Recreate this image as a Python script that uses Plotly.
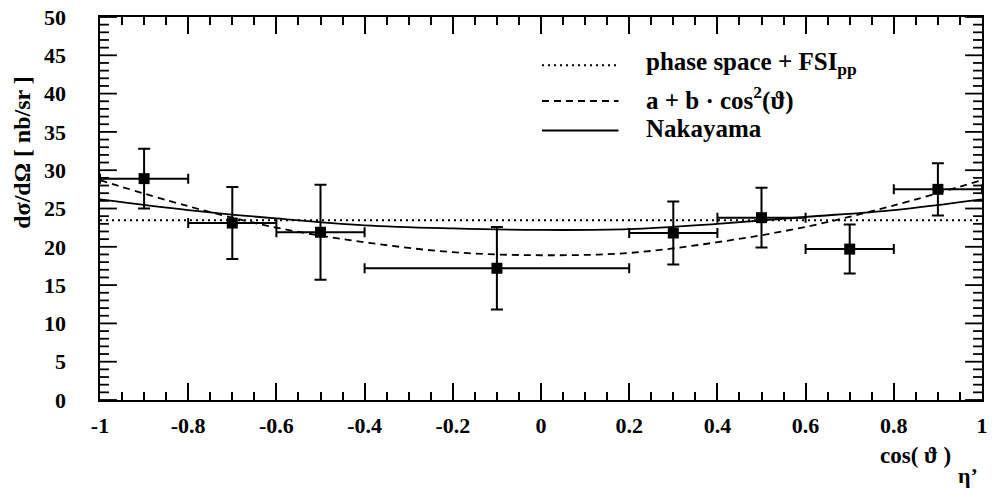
import plotly.graph_objects as go

# Measured differential cross section per cos(theta) bin
cos_theta = [-0.9, -0.7, -0.5, -0.1, 0.3, 0.5, 0.7, 0.9]
bin_halfwidth = [0.1, 0.1, 0.1, 0.3, 0.1, 0.1, 0.1, 0.1]
dsigma = [28.9, 23.1, 21.9, 17.2, 21.8, 23.8, 19.7, 27.5]
dsigma_err = [3.9, 4.7, 6.2, 5.4, 4.1, 3.9, 3.2, 3.4]

# Model curves
curve_x = [-1.0, -0.8, -0.6, -0.4, -0.2, 0.0, 0.2, 0.4, 0.6, 0.8, 1.0]
nakayama = [26.2, 24.8, 23.7, 22.8, 22.4, 22.2, 22.3, 23.0, 23.9, 24.8, 26.2]
cos2_fit = [28.7, 25.3, 22.5, 20.6, 19.3, 18.9, 19.2, 20.6, 22.6, 25.4, 28.7]
fsi_x = [-1.0, 1.0]
fsi_pp = [23.45, 23.45]

# Tick labels
x_tickvals = [-1, -0.8, -0.6, -0.4, -0.2, 0, 0.2, 0.4, 0.6, 0.8, 1]
x_ticktext = ["-1", "-0.8", "-0.6", "-0.4", "-0.2", "0", "0.2", "0.4", "0.6", "0.8", "1"]
y_tickvals = [0, 5, 10, 15, 20, 25, 30, 35, 40, 45, 50]
y_ticktext = ["0", "5", "10", "15", "20", "25", "30", "35", "40", "45", "50"]

legend_labels = ["phase space + FSI<sub>pp</sub>", "a + b · cos<sup>2</sup>(ϑ)", "Nakayama"]
legend_dashes = ["2px,4px", "7px,5px", "solid"]

X_RANGE = [-1, 1]
Y_RANGE = [0, 50]

W, H = 993, 488
ML, MR, MT, MB = 100, 5, 12, 88
PW, PH = W - ML - MR, H - MT - MB

def px_x(p):
    return (p - ML) / PW

def px_y(p):
    return (H - MB - p) / PH

FONT = dict(family="Liberation Serif, Times New Roman, serif", color="black", weight="bold")
LABEL_GAP = "\u00a0" * 5  # keeps y labels clear of the frame

fig = go.Figure()

# Flat phase space + FSI line lives on the x overlay that carries the x tick labels
fig.add_trace(go.Scatter(x=fsi_x, y=fsi_pp, mode="lines", xaxis="x2", yaxis="y",
                         line=dict(color="black", width=2, dash=legend_dashes[0]),
                         showlegend=False, hoverinfo="skip"))
fig.add_trace(go.Scatter(x=curve_x, y=cos2_fit, mode="lines", line_shape="spline",
                         line=dict(color="black", width=1.8, dash=legend_dashes[1]),
                         showlegend=False, hoverinfo="skip"))
fig.add_trace(go.Scatter(x=curve_x, y=nakayama, mode="lines", line_shape="spline",
                         line=dict(color="black", width=1.8),
                         showlegend=False, hoverinfo="skip"))
fig.add_trace(go.Scatter(
    x=cos_theta, y=dsigma, mode="markers",
    marker=dict(symbol="square", size=11, color="black"),
    error_x=dict(type="data", array=bin_halfwidth, color="black", thickness=2, width=5),
    error_y=dict(type="data", array=dsigma_err, color="black", thickness=2, width=6),
    showlegend=False,
))

tickfont = dict(size=22, **FONT)

fig.update_layout(
    xaxis=dict(range=X_RANGE, tickmode="array", tickvals=x_tickvals,
               showticklabels=False,
               showline=True, linecolor="black", linewidth=2, mirror="ticks",
               ticks="inside", ticklen=17, tickwidth=1.8, tickcolor="black",
               showgrid=False, zeroline=False,
               minor=dict(dtick=0.05, tick0=-1, ticks="inside", ticklen=8,
                          tickwidth=1.8, tickcolor="black", showgrid=False)),
    xaxis2=dict(range=X_RANGE, overlaying="x", anchor="y", side="bottom",
                tickmode="array", tickvals=x_tickvals, ticktext=x_ticktext,
                ticks="", showline=False, showgrid=False, zeroline=False,
                tickfont=tickfont, ticklabeloverflow="allow", ticklabelstandoff=10),
    yaxis=dict(range=Y_RANGE, tickmode="array", tickvals=y_tickvals,
               ticktext=[t + LABEL_GAP for t in y_ticktext],
               tickfont=tickfont, ticklabeloverflow="allow",
               showline=True, linecolor="black", linewidth=2, mirror=True,
               ticks="", showgrid=False, zeroline=False),
)

shapes = []

# Inside y ticks on the left and right frame edges, placed on the y scale
MAJOR_LEN, MINOR_LEN = 17, 9
y_minor = [v for v in range(Y_RANGE[0], Y_RANGE[1] + 1) if v not in y_tickvals]
for vals, ln in ((y_tickvals, MAJOR_LEN), (y_minor, MINOR_LEN)):
    for v in vals:
        for x0, x1 in ((0, ln / PW), (1 - ln / PW, 1)):
            shapes.append(dict(type="line", xref="paper", yref="y",
                               x0=x0, x1=x1, y0=v, y1=v, layer="above",
                               line=dict(color="black", width=1.8)))

# Legend drawn by hand: line samples and labels
legend_rows = [61, 97, 127]
annotations = []
for label, dash, row in zip(legend_labels, legend_dashes, legend_rows):
    shapes.append(dict(type="line", xref="paper", yref="paper",
                       x0=px_x(545), x1=px_x(622), y0=px_y(row), y1=px_y(row),
                       line=dict(color="black", width=2, dash=dash)))
    annotations.append(dict(text=label, xref="paper", yref="paper",
                            x=px_x(648), y=px_y(row - 2), xanchor="left", yanchor="middle",
                            showarrow=False, font=dict(size=25, **FONT)))

# Axis titles
annotations.append(dict(text="dσ/dΩ [ nb/sr ]", xref="paper", yref="paper",
                        x=px_x(22), y=px_y(149), xanchor="center", yanchor="middle",
                        textangle=-90, showarrow=False, font=dict(size=24, **FONT)))
annotations.append(dict(text="cos( ϑ )", xref="paper", yref="paper",
                        x=px_x(959), y=px_y(456), xanchor="right", yanchor="middle",
                        showarrow=False, font=dict(size=23, **FONT)))
annotations.append(dict(text="η’", xref="paper", yref="paper",
                        x=px_x(962), y=px_y(476), xanchor="left", yanchor="middle",
                        showarrow=False, font=dict(size=22, **FONT)))

fig.update_layout(
    width=W, height=H,
    margin=dict(l=ML, r=MR, t=MT, b=MB, pad=0),
    paper_bgcolor="white", plot_bgcolor="white",
    shapes=shapes, annotations=annotations,
    showlegend=False,
)

fig.write_html("out.html")
